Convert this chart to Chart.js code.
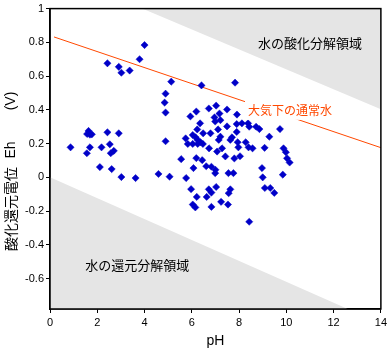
<!DOCTYPE html>
<html><head><meta charset="utf-8">
<script src="https://cdn.jsdelivr.net/npm/chart.js@4.4.1/dist/chart.umd.min.js"></script>
<style>html,body{margin:0;padding:0;background:#fff}#wrap{width:390px;height:351px;position:relative}</style>
</head><body><div id="wrap"><canvas id="c" width="390" height="351"></canvas></div>
<script>
// Sample measurements (pH, Eh in V)
const samplePH = [0.87,1.57,1.63,1.69,1.77,1.56,1.69,2.11,2.18,2.43,2.43,2.53,2.57,2.61,2.70,2.91,2.91,3.02,3.02,3.37,3.62,3.79,4.00,
  4.59,4.85,4.89,4.89,4.89,5.06,5.13,5.55,5.74,5.76,5.83,5.94,5.97,
  6.04,6.04,6.04,6.07,6.16,6.15,6.19,6.19,6.21,6.23,6.25,6.25,6.35,6.37,6.41,6.44,6.47,6.48,6.61,6.63,6.72,6.73,6.72,6.79,6.83,6.83,6.83,6.96,6.99,7.00,6.99,
  7.03,7.03,7.07,7.11,7.17,7.21,7.21,7.14,7.24,7.28,7.42,7.49,7.49,7.53,7.55,7.56,7.63,7.70,7.63,7.76,7.80,7.83,7.91,7.90,7.90,7.94,7.97,
  8.04,8.12,8.28,8.38,8.40,8.43,8.43,8.57,8.72,8.86,8.97,9.00,9.08,9.09,9.28,9.32,9.49,9.73,9.85,9.88,9.98,10.03,10.14];
const sampleEh = [0.178,0.257,0.275,0.253,0.255,0.143,0.178,0.061,0.178,0.267,0.676,0.196,0.143,0.049,0.157,0.655,0.261,0.62,0.002,0.633,-0.004,0.70,0.784,
  0.02,0.443,0.496,0.384,0.214,0.004,0.567,0.108,0.231,-0.004,0.198,0.361,-0.07,
  0.251,0.198,-0.161,0.055,0.237,-0.178,0.39,0.114,-0.116,0.284,0.222,0.198,0.32,0.208,0.545,0.102,0.198,0.261,0.066,-0.116,0.408,0.172,-0.071,0.261,0.063,-0.09,-0.175,0.355,0.331,0.045,0.025,
  0.425,-0.057,0.153,0.284,0.378,0.339,0.241,0.222,-0.145,0.172,0.124,0.402,0.302,-0.161,0.025,-0.094,-0.071,0.237,0.222,0.025,0.112,0.561,0.372,0.316,0.269,0.208,0.178,
  0.125,0.32,0.208,0.32,0.178,0.30,-0.263,0.172,0.30,0.286,0.055,0.000,0.175,-0.063,0.241,-0.063,-0.092,0.286,0.016,0.172,0.149,0.113,0.088];
// Boundary lines
const oxidationPH = [3.9, 14];
const oxidationEh = [1.0, 0.404];
const reductionPH = [0, 12.6];
const reductionEh = [0, -0.78];
const airWaterPH = [0.17, 14];
const airWaterEh = [0.832, 0.176];
// Axes
const xTicks = [0,2,4,6,8,10,12,14];
const yTicks = [-0.6,-0.4,-0.2,0,0.2,0.4,0.6,0.8,1];
const xTitle = 'pH';
const yTitleParts = ['酸化還元電位', 'Eh', '(V)'];
const labelOxidation = '水の酸化分解領域';
const labelReduction = '水の還元分解領域';
const labelAirWater = '大気下の通常水';

const toXY = (xs, ys) => xs.map((x, i) => ({x, y: ys[i]}));
const GREY = '#e5e5e5', ORANGE = '#ff4800', BLUE = '#0000c8';
const CJK = '"Noto Sans CJK JP", sans-serif';

const annot = {
  id: 'annot',
  afterDatasetsDraw(chart) {
    const {ctx, scales: {x, y}} = chart;
    ctx.save();
    ctx.textBaseline = 'middle';
    ctx.font = '13px ' + CJK;
    ctx.fillStyle = '#000';
    ctx.textAlign = 'center';
    ctx.fillText(labelOxidation, x.getPixelForValue(11.0), y.getPixelForValue(0.794));
    ctx.fillText(labelReduction, x.getPixelForValue(3.69), y.getPixelForValue(-0.518));
    ctx.font = '12px ' + CJK;
    const lx = x.getPixelForValue(8.25), ly = y.getPixelForValue(0.394);
    const w = ctx.measureText(labelAirWater).width;
    ctx.fillStyle = '#fff';
    ctx.fillRect(lx, ly - 10, w + 6, 19);
    ctx.fillStyle = ORANGE;
    ctx.textAlign = 'left';
    ctx.fillText(labelAirWater, lx + 3, ly);
    ctx.restore();
  },
  afterDraw(chart) {
    const {ctx, chartArea: a} = chart;
    ctx.save();
    ctx.strokeStyle = '#000';
    ctx.lineWidth = 1.5;
    ctx.strokeRect(a.left, a.top, a.right - a.left, a.bottom - a.top);
    // y-axis title (rotated), drawn in three pieces
    ctx.translate(11, 0);
    ctx.rotate(-Math.PI / 2);
    ctx.fillStyle = '#000';
    ctx.textAlign = 'center';
    ctx.textBaseline = 'middle';
    ctx.font = '14px ' + CJK;
    ctx.fillText(yTitleParts[0], -209, 0);
    ctx.font = '14px "Liberation Sans", Arial, sans-serif';
    ctx.fillText(yTitleParts[1], -150, 0);
    ctx.fillText(yTitleParts[2], -101, 0);
    ctx.restore();
  }
};

new Chart(document.getElementById('c'), {
  type: 'scatter',
  data: {
    datasets: [
      {label: 'samples', data: toXY(samplePH, sampleEh), pointStyle: 'rectRot', pointRadius: 3.6,
       backgroundColor: BLUE, borderColor: BLUE, borderWidth: 0.5, order: 0},
      {type: 'line', label: 'air', data: toXY(airWaterPH, airWaterEh), borderColor: ORANGE, borderWidth: 1,
       pointRadius: 0, fill: false, order: 1},
      {type: 'line', label: 'ox', data: toXY(oxidationPH, oxidationEh), borderWidth: 0, borderColor: GREY,
       backgroundColor: GREY, pointRadius: 0, fill: 'end', order: 2},
      {type: 'line', label: 'red', data: toXY(reductionPH, reductionEh), borderWidth: 0, borderColor: GREY,
       backgroundColor: GREY, pointRadius: 0, fill: 'start', order: 3}
    ]
  },
  options: {
    responsive: false, animation: false, devicePixelRatio: 1,
    layout: {padding: {top: 7, right: 8, left: 0, bottom: 0}},
    plugins: {legend: {display: false}, tooltip: {enabled: false}},
    scales: {
      x: {
        type: 'linear', min: 0, max: 14,
        afterBuildTicks: s => { s.ticks = xTicks.map(v => ({value: v})); },
        afterFit: s => { s.height = 42; },
        grid: {display: true, drawOnChartArea: false, drawTicks: true, tickLength: 4, color: '#000', lineWidth: 1},
        border: {display: true, color: '#000', width: 1.5},
        ticks: {color: '#000', font: {family: '"Liberation Sans", Arial, sans-serif', size: 11}, padding: 3,
                maxRotation: 0, callback: v => String(v)},
        title: {display: true, text: xTitle, color: '#000', font: {family: '"Liberation Sans", Arial, sans-serif', size: 14}, padding: {top: 1, bottom: 1}}
      },
      y: {
        type: 'linear', min: -0.78, max: 1,
        afterBuildTicks: s => { s.ticks = yTicks.map(v => ({value: v})); },
        afterFit: s => { s.width = 50; },
        grid: {display: true, drawOnChartArea: false, drawTicks: true, tickLength: 4, color: '#000', lineWidth: 1},
        border: {display: true, color: '#000', width: 1.5},
        ticks: {color: '#000', font: {family: '"Liberation Sans", Arial, sans-serif', size: 11}, padding: 2,
                callback: v => String(Math.round(v * 10) / 10)},
        title: {display: false}
      }
    }
  },
  plugins: [annot]
});
</script></body></html>
